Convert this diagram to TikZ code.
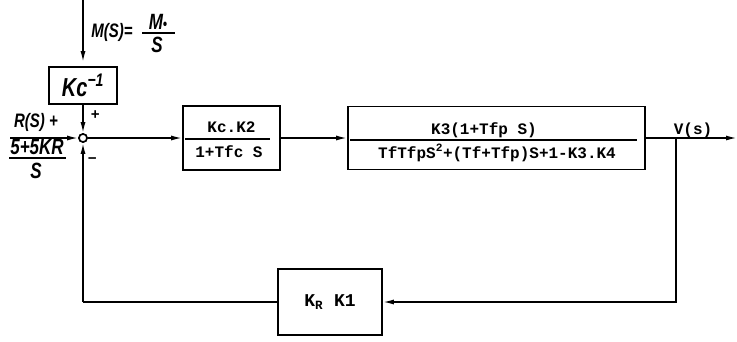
\documentclass[tikz,border=0pt]{standalone}
\usepackage{fontspec}
\usepackage{graphicx}
\setmainfont{Liberation Sans}
\setmonofont{Liberation Mono}
\usetikzlibrary{arrows.meta}
\newcommand\talltext[1]{\scalebox{1}[1.3]{#1}}
\begin{document}
\begin{tikzpicture}[x=1pt,y=-1pt,
  ln/.style={line width=1.6pt},
  arr/.style={ln,-{Latex[length=11pt,width=5pt]}},
  blk/.style={draw,line width=1.6pt,inner sep=0pt},
  tt/.style={font=\fontsize{16}{16}\selectfont\ttfamily\bfseries},
  hand/.style={font=\fontsize{15}{15}\selectfont\bfseries\itshape},
  handl/.style={font=\fontsize{17}{17}\selectfont\bfseries\itshape}]
\useasboundingbox (0,0) rectangle (737,341);

% coordinates
\coordinate (top) at (83,0);
\coordinate (in) at (10,138);
\coordinate (out) at (737,138);
\coordinate (br) at (676,138);
\coordinate (c1) at (676,302);
\coordinate (c2) at (83,302);

% blocks
\node[blk,minimum width=68pt,minimum height=37pt,font=\fontsize{20}{20}\selectfont\bfseries\itshape] (kc) at (83,85.5) {\talltext{Kc\textsuperscript{−1}}};
\node[blk,minimum width=97pt,minimum height=64pt] (b1) at (231.5,138) {};
\node[tt] (b1n) at (231.5,127) {Kc.K2};
\node[tt] (b1d) at (229,152) {1+Tfc S};
\node[blk,minimum width=297pt,minimum height=63pt] (b2) at (496.5,138) {};
\node[tt] (b2n) at (484,130) {K3(1+Tfp S)};
\node[tt] (b2d) at (497,153) {TfTfpS\textsuperscript{2}+(Tf+Tfp)S+1-K3.K4};
\node[blk,minimum width=104pt,minimum height=66pt,tt,font=\fontsize{18}{18}\selectfont\ttfamily\bfseries] (fb) at (330,302) {K\textsubscript{R} K1};
\node[draw,circle,ln,minimum size=8pt,inner sep=0pt,fill=white] (s) at (83,138) {};

% fraction bars
\draw[ln] (185,139) -- (270,139);
\draw[ln] (350,140) -- (637,140);

% connectors
\draw[arr,shorten >=4pt] (top) -- (kc.north);
\draw[arr] (kc.south) -- (s.north);
\draw[arr] (in) -- (s.west);
\draw[arr] (s.east) -- (b1.west);
\draw[arr] (b1.east) -- (b2.west);
\draw[arr] (b2.east) -- (out);
\draw[arr] (br) -- (c1) -- (fb.east);
\draw[ln] (fb.west) -- (c2);
\draw[arr] (c2) -- (s.south);
\node[draw,circle,ln,minimum size=8pt,inner sep=0pt,fill=white] at (s) {};

% labels
\node[tt] (v) at (693,130) {V(s)};
\node[hand] (ms) at (112,32) {\talltext{M(S)=}};
\node[handl] (mo) at (158,22) {\talltext{M{\fontsize{12}{12}\selectfont•}}};
\draw[ln] (142,33) -- (175,33);
\node[handl] (msd) at (157,45) {\talltext{S}};
\node[hand] (rs) at (36,122) {\talltext{R(S) +}};
\node[handl] (kr) at (37,147) {\talltext{5+5KR}};
\draw[ln] (9,158) -- (66,158);
\node[handl] (sd) at (36,171) {\talltext{S}};
\node[hand] (plus) at (95,115) {+};
\node[hand] (minus) at (92,161) {−};
\end{tikzpicture}
\end{document}
